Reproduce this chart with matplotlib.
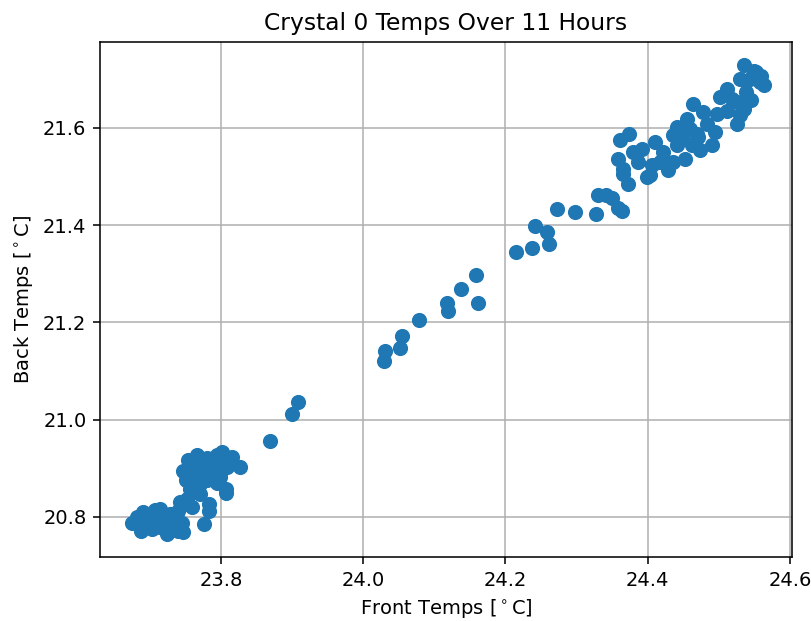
import matplotlib
matplotlib.use("Agg")
import matplotlib.pyplot as plt

# Lower-left cluster, middle points, upper-right cluster
front_low = [23.675, 23.687, 23.691, 23.708, 23.715, 23.729, 23.743, 23.753, 23.759, 23.738,
             23.715, 23.724, 23.747, 23.703, 23.719, 23.696, 23.731, 23.745, 23.776, 23.682,
             23.754, 23.766, 23.780, 23.801, 23.815, 23.827, 23.808, 23.747, 23.751, 23.771,
             23.785, 23.792, 23.807, 23.807, 23.771, 23.783, 23.783, 23.766, 23.761, 23.776,
             23.794, 23.799, 23.757, 23.750,
             23.760, 23.770, 23.790, 23.780, 23.765, 23.795, 23.785, 23.755, 23.775, 23.790,
             23.805, 23.800, 23.700, 23.720, 23.735, 23.710, 23.740, 23.725, 23.740]
back_low = [20.786, 20.770, 20.809, 20.813, 20.816, 20.806, 20.830, 20.837, 20.820, 20.796,
            20.779, 20.765, 20.768, 20.775, 20.787, 20.791, 20.782, 20.786, 20.784, 20.799,
            20.916, 20.926, 20.921, 20.933, 20.922, 20.902, 20.902, 20.895, 20.875, 20.868,
            20.888, 20.909, 20.857, 20.848, 20.847, 20.827, 20.811, 20.888, 20.909, 20.902,
            20.926, 20.881, 20.857, 20.827,
            20.895, 20.915, 20.895, 20.875, 20.880, 20.870, 20.905, 20.905, 20.890, 20.920,
            20.915, 20.895, 20.800, 20.795, 20.790, 20.785, 20.812, 20.775, 20.770]

front_mid = [23.869, 23.908, 23.900, 24.031, 24.029, 24.054, 24.052, 24.078, 24.118, 24.120,
             24.138, 24.159, 24.161, 24.215, 24.237, 24.262, 24.258, 24.241, 24.272, 24.298,
             24.327, 24.330, 24.342, 24.350, 24.358, 24.364]
back_mid = [20.955, 21.036, 21.012, 21.141, 21.121, 21.171, 21.147, 21.205, 21.240, 21.224,
            21.268, 21.297, 21.239, 21.345, 21.353, 21.362, 21.386, 21.398, 21.434, 21.428,
            21.423, 21.462, 21.462, 21.456, 21.435, 21.430]

front_high = [24.361, 24.374, 24.359, 24.380, 24.366, 24.373, 24.387, 24.403, 24.410, 24.406,
              24.422, 24.429, 24.441, 24.450, 24.453, 24.464, 24.478, 24.460, 24.471, 24.483,
              24.495, 24.502, 24.511, 24.497, 24.511, 24.525, 24.535, 24.549, 24.560, 24.530,
              24.558, 24.539, 24.546, 24.525, 24.530, 24.518, 24.441, 24.436, 24.417, 24.392,
              24.490, 24.474, 24.366, 24.399, 24.436, 24.455, 24.462, 24.563, 24.544, 24.535,
              24.469, 24.553]
back_high = [21.575, 21.588, 21.537, 21.551, 21.516, 21.485, 21.530, 21.503, 21.571, 21.523,
             21.551, 21.513, 21.602, 21.578, 21.537, 21.650, 21.633, 21.598, 21.581, 21.609,
             21.592, 21.664, 21.681, 21.629, 21.636, 21.609, 21.729, 21.718, 21.708, 21.701,
             21.694, 21.674, 21.657, 21.653, 21.626, 21.660, 21.564, 21.530, 21.530, 21.557,
             21.564, 21.554, 21.506, 21.499, 21.585, 21.619, 21.564, 21.688, 21.701, 21.639,
             21.588, 21.715]

front = front_low + front_mid + front_high
back = back_low + back_mid + back_high

x_ticks = [23.8, 24.0, 24.2, 24.4, 24.6]
y_ticks = [20.8, 21.0, 21.2, 21.4, 21.6]

fig = plt.figure(figsize=(811 / 140, 621 / 140), dpi=140)
ax = fig.add_axes([100 / 811, (621 - 557) / 621, 692 / 811, 515 / 621])
ax.scatter(front, back, s=46, color="#1f77b4", zorder=3)
ax.set_xlim(23.630, 24.603)
ax.set_ylim(20.717, 21.777)
ax.set_xticks(x_ticks)
ax.set_yticks(y_ticks)
ax.grid(True)
ax.set_axisbelow(True)
ax.set_title("Crystal 0 Temps Over 11 Hours")
ax.set_xlabel("Front Temps [$^\\circ$C]")
ax.set_ylabel("Back Temps [$^\\circ$C]")
fig.savefig("out.png", dpi=140)
